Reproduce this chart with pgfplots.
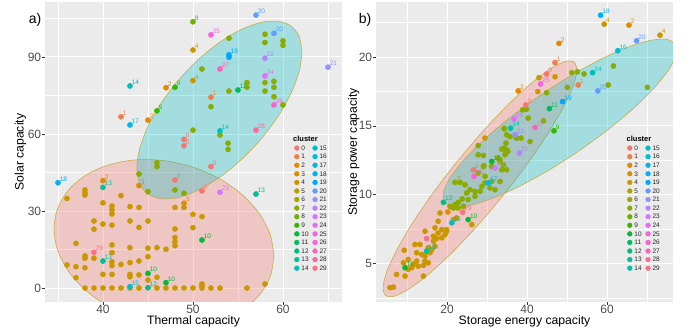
\documentclass[border=0pt]{standalone}
\usepackage{fontspec}
\setmainfont{Liberation Sans}
\usepackage{pgfplots}
\pgfplotsset{compat=1.18}

\definecolor{ggbg}{HTML}{EBEBEB}
\definecolor{tickc}{HTML}{333333}
\definecolor{tickt}{HTML}{4D4D4D}
\definecolor{ellc}{RGB}{195,170,60}
\definecolor{c0}{HTML}{F8766D}
\definecolor{c1}{HTML}{EF7F49}
\definecolor{c2}{HTML}{E38900}
\definecolor{c3}{HTML}{D89000}
\definecolor{c4}{HTML}{C99800}
\definecolor{c5}{HTML}{B79F00}
\definecolor{c6}{HTML}{A3A500}
\definecolor{c7}{HTML}{8AAB00}
\definecolor{c8}{HTML}{6BB100}
\definecolor{c9}{HTML}{39B600}
\definecolor{c10}{HTML}{00BA38}
\definecolor{c11}{HTML}{00BC5A}
\definecolor{c12}{HTML}{00BF7D}
\definecolor{c13}{HTML}{00C098}
\definecolor{c14}{HTML}{00C0B2}
\definecolor{c15}{HTML}{00BFC4}
\definecolor{c16}{HTML}{00BCD6}
\definecolor{c17}{HTML}{00B7E8}
\definecolor{c18}{HTML}{00B0F6}
\definecolor{c19}{HTML}{00A5FF}
\definecolor{c20}{HTML}{619CFF}
\definecolor{c21}{HTML}{9590FF}
\definecolor{c22}{HTML}{B983FF}
\definecolor{c23}{HTML}{D376FF}
\definecolor{c24}{HTML}{E76BF3}
\definecolor{c25}{HTML}{F564E3}
\definecolor{c26}{HTML}{FD61D1}
\definecolor{c27}{HTML}{FF62BC}
\definecolor{c28}{HTML}{FF67A4}
\definecolor{c29}{HTML}{FD6F87}

\newcommand{\tickf}{\fontsize{12}{13}\selectfont}
\newcommand{\labf}{\fontsize{12.2}{14}\selectfont}
\newcommand{\lblf}{\fontsize{6.5}{7}\selectfont}
\newcommand{\legf}{\fontsize{6.5}{7}\selectfont}

\pgfplotsset{
  ggbase/.style={
    scale only axis, width=297pt, height=300pt,
    axis background/.style={fill=ggbg},
    axis line style={draw=none},
    grid=both,
    major grid style={white, line width=0.9pt},
    minor grid style={white, line width=0.45pt},
    tick align=outside, major tick length=2.7pt, minor tick length=0pt,
    tick style={color=tickc, line width=0.5pt},
    tick pos=left,
    xticklabel style={font=\tickf, text=tickt, inner sep=0.5pt},
    yticklabel style={font=\tickf, text=tickt, inner sep=1pt},
    /pgf/number format/assume math mode=true,
    every axis x label/.style={at={(axis description cs:0.5,-0.066)}, anchor=center, font=\labf, inner sep=0pt},
    legend columns=2, legend cell align=left,
    legend image code/.code={\fill[##1] (0pt,0pt) circle (2.4pt);},
    legend style={draw=none, fill=none, inner xsep=0pt, inner ysep=0pt,
      anchor=north west, font=\legf, row sep=2.84pt,
      nodes={inner sep=0.6pt, text depth=0pt, text=black!85},
      /tikz/every odd column/.append style={column sep=1.4pt},
      /tikz/every even column/.append style={column sep=3.2pt}},
  },
  pt/.style={only marks, mark=*, mark size=2.6pt, color=#1, forget plot,
    nodes near coords style={text=#1, font=\lblf, anchor=south west, inner sep=0pt, xshift=1.6pt, yshift=1.2pt}},
  bulk/.style={only marks, mark=*, mark size=2.6pt, color=#1, forget plot},
  ell/.style={draw=ellc, line width=0.55pt, fill=#1, fill opacity=0.3, smooth, no markers, forget plot},
}

\newcommand{\gglegend}{%
\addlegendimage{c0}\addlegendentry{0}
\addlegendimage{c15}\addlegendentry{15}
\addlegendimage{c1}\addlegendentry{1}
\addlegendimage{c16}\addlegendentry{16}
\addlegendimage{c2}\addlegendentry{2}
\addlegendimage{c17}\addlegendentry{17}
\addlegendimage{c3}\addlegendentry{3}
\addlegendimage{c18}\addlegendentry{18}
\addlegendimage{c4}\addlegendentry{4}
\addlegendimage{c19}\addlegendentry{19}
\addlegendimage{c5}\addlegendentry{5}
\addlegendimage{c20}\addlegendentry{20}
\addlegendimage{c6}\addlegendentry{6}
\addlegendimage{c21}\addlegendentry{21}
\addlegendimage{c7}\addlegendentry{7}
\addlegendimage{c22}\addlegendentry{22}
\addlegendimage{c8}\addlegendentry{8}
\addlegendimage{c23}\addlegendentry{23}
\addlegendimage{c9}\addlegendentry{9}
\addlegendimage{c24}\addlegendentry{24}
\addlegendimage{c10}\addlegendentry{10}
\addlegendimage{c25}\addlegendentry{25}
\addlegendimage{c11}\addlegendentry{11}
\addlegendimage{c26}\addlegendentry{26}
\addlegendimage{c12}\addlegendentry{12}
\addlegendimage{c27}\addlegendentry{27}
\addlegendimage{c13}\addlegendentry{13}
\addlegendimage{c28}\addlegendentry{28}
\addlegendimage{c14}\addlegendentry{14}
\addlegendimage{c29}\addlegendentry{29}
}

\begin{document}
\begin{tikzpicture}
\path[use as bounding box] (0,0) rectangle (688pt,331pt);

% ---------------- panel a ----------------
\begin{axis}[ggbase, name=A, at={(45pt,29pt)}, anchor=south west,
  xmin=33.56, xmax=66.56, ymin=-5.45, ymax=111.4,
  xtick={40,50,60}, ytick={0,30,60,90},
  minor xtick={35,45,55,65}, minor ytick={15,45,75,105},
  xlabel={Thermal capacity}, ylabel={Solar capacity},
  every axis y label/.style={at={(axis description cs:-0.083,0.5)}, anchor=center, rotate=90, font=\labf},
  legend style={at={(0.8384,0.5233)}}]
\gglegend
% bulk cluster 4 (gold)
\addplot[bulk=c4] coordinates {
(36,34.9)(38,38.2)(38,37.1)(38,36.2)(42,36.0)(40,33.2)(41,31.9)(41,30.4)(41,28.8)
(43,31.7)(44,31.4)(48,31.4)(49,31.4)(50,28.7)(51,27.8)(39,26.1)(39,22.9)(40,24.9)
(41,24.5)(43,26.1)(45,26.1)(44,23.6)(48,23.0)(50,23.5)(48,19.7)(48,18.0)(48,16.5)
(37,17.4)(41,16.8)(41,13.8)(38,12.5)(38,11.6)(39,11.6)(43,15.7)(45,15.5)(46,15.7)
(47,15.1)(45,12.2)(36,9.0)(37,8.3)(38,7.9)(41,10.2)(41,8.7)(42,9.2)(43,9.9)(44,10.5)
(37,4.0)(40,5.3)(41,5.3)(43,5.3)(43,4.4)(44,5.1)(45,3.1)(46,4.2)
(38,0)(39,0)(40,0)(41,0)(42,0)(43,0)(44,0)(46,0)(47,0)(48,0)(49,0)(50,0)(51,0)
(51,0.8)(51,1.6)(52,0)(53,0)(56,0)(58,1.6)};
% bulk cluster 7 (olive)
\addplot[bulk=c7] coordinates {
(51,85.3)(52,70.6)(50,61.5)(53,59.6)(53.9,56.4)(53.9,54.0)(46,48.8)(46,47.3)
(54,97.3)(58,98.8)(58,95.6)(60,96.3)(60,94.5)(58,80.0)(58,76.7)(59,80.5)(59,78.2)
(59,74.5)(56,80.0)(56,78.2)(54,76.7)(60,71.3)(44,44.4)(45,37.5)(48,38.2)(49,36.9)};
\addplot[bulk=c19] coordinates {(54,89.9)};
% labelled points
\addplot[pt=c0, nodes near coords=0] coordinates {(49,57.9)(49,55.4)(52,47.3)(48,42.1)(51,37.8)};
\addplot[pt=c1, nodes near coords=1] coordinates {(52,74.3)(42,66.7)};
\addplot[pt=c2, nodes near coords=2] coordinates {(47,78.0)(45,65.4)(40,41.8)};
\addplot[pt=c3, nodes near coords=3] coordinates {(44,39.9)(49,33.0)};
\addplot[pt=c4, nodes near coords=4] coordinates {(50,92.7)(50,80.8)};
\addplot[pt=c8, nodes near coords=8] coordinates {(50,103.7)};
\addplot[pt=c9, nodes near coords=9] coordinates {(48,78.2)(46,69.0)};
\addplot[pt=c10, nodes near coords=10] coordinates {(51,18.7)(45,5.7)(47,2.1)};
\addplot[pt=c11, nodes near coords=11] coordinates {(55,77.1)};
\addplot[pt=c12, nodes near coords=12] coordinates {(45,0.1)};
\addplot[pt=c13, nodes near coords=13] coordinates {(40,39.2)(40,10.5)(57,36.6)};
\addplot[pt=c14, nodes near coords=14] coordinates {(43,78.7)(53,61.2)};
\addplot[pt=c15, nodes near coords=15] coordinates {(43,0.5)};
\addplot[pt=c17, nodes near coords=17] coordinates {(43,63.5)};
\addplot[pt=c18, nodes near coords=18] coordinates {(35,41.0)};
\addplot[pt=c19, nodes near coords=19] coordinates {(54,90.8)};
\addplot[pt=c20, nodes near coords=20] coordinates {(57,106.3)(59,99.2)};
\addplot[pt=c21, nodes near coords=21] coordinates {(65,86.0)};
\addplot[pt=c22, nodes near coords=22] coordinates {(58,89.5)};
\addplot[pt=c23, nodes near coords=23] coordinates {(53,37.3)};
\addplot[pt=c24, nodes near coords=24] coordinates {(58,82.6)};
\addplot[pt=c25, nodes near coords=25] coordinates {(52,98.6)};
\addplot[pt=c26, nodes near coords=26] coordinates {(59,71.3)};
\addplot[pt=c27, nodes near coords=27] coordinates {(53,85.3)};
\addplot[pt=c28, nodes near coords=28] coordinates {(57,61.5)};
\addplot[pt=c29, nodes near coords=29] coordinates {(39,13.9)};
% ellipses
\addplot[ell=c0] coordinates {
(59.00,12.42)(58.58,4.34)(57.36,-2.82)(55.42,-8.59)(52.89,-12.56)(49.94,-14.46)
(46.78,-14.18)(43.62,-11.72)(40.67,-7.26)(38.14,-1.09)(36.20,6.36)(34.98,14.58)
(34.56,23.02)(34.98,31.10)(36.20,38.26)(38.14,44.03)(40.67,48.00)(43.62,49.90)
(46.78,49.62)(49.94,47.16)(52.89,42.70)(55.42,36.53)(57.36,29.08)(58.58,20.86)(59.00,12.42)};
\addplot[ell=c15] coordinates {
(62.11,91.94)(61.80,97.98)(60.88,102.06)(59.42,103.92)(57.53,103.42)(55.31,100.59)
(52.94,95.64)(50.57,88.89)(48.36,80.82)(46.46,71.96)(45.00,62.92)(44.08,54.32)
(43.77,46.74)(44.08,40.70)(45.00,36.62)(46.46,34.76)(48.36,35.26)(50.57,38.09)
(52.94,43.04)(55.31,49.79)(57.53,57.86)(59.42,66.72)(60.88,75.76)(61.80,84.36)(62.11,91.94)};
\end{axis}

% ---------------- panel b ----------------
\begin{axis}[ggbase, name=B, at={(376pt,29pt)}, anchor=south west,
  xmin=2.25, xmax=76.5, ymin=2.2, ymax=24.0,
  xtick={20,40,60}, ytick={5,10,15,20},
  minor xtick={10,30,50,70}, minor ytick={2.5,7.5,12.5,17.5,22.5},
  xlabel={Storage energy capacity}, ylabel={Storage power capacity},
  every axis y label/.style={at={(axis description cs:-0.075,0.5)}, anchor=center, rotate=90, font=\labf},
  legend style={at={(0.8451,0.5233)}}]
\gglegend
\addplot[bulk=c4] coordinates {
(43,18.50)(47,18.57)(42.7,17.49)(29.5,14.11)
(18.25,8.67)(17.8,8.07)(21.6,8.19)(22.4,8.31)(26.2,7.83)(17.0,7.59)(18.7,7.46)(19.9,7.46)
(17.8,7.22)(19.5,7.10)(16.6,6.98)(14.5,7.34)(12.0,6.38)(13.25,6.38)(15.3,6.14)(17.0,6.25)
(16.6,6.62)(17.4,6.81)(9.3,5.96)(12.4,5.78)(13.7,5.65)(10.3,5.29)(12.4,5.17)(14.5,5.17)
(11.6,4.93)(12.8,4.80)(14.1,4.86)(15.3,5.05)(7.4,4.20)(9.5,4.08)(14.1,4.08)(5.75,3.24)
(6.6,3.28)(10.3,4.57)(11.2,4.69)(9.1,5.05)(14.5,5.53)(15.75,5.78)(16.2,6.01)(18.7,6.86)(19.9,7.34)};
\addplot[bulk=c7] coordinates {
(44.9,17.41)(51.2,18.86)(52.6,18.93)(54.25,18.77)(61.6,19.35)(50.1,17.80)(60.3,17.97)(70.1,17.80)
(38.9,16.16)(39.9,16.21)(44.1,15.36)(40.3,15.56)(34.3,14.78)(35.75,14.22)(37.4,14.11)(38.5,14.11)
(40.75,13.86)(34.75,13.75)(34.3,13.38)(34.9,13.26)(33.7,13.31)(34.7,13.02)(35.2,13.14)(27.8,12.90)
(29.25,12.10)(31.2,12.05)(32.7,12.66)(33.25,12.41)(27.8,13.57)(29.1,12.85)(33.25,12.54)(34.5,12.90)
(34.9,14.35)(37.2,14.15)(34.3,14.83)
(23.25,10.89)(24.5,10.72)(25.75,10.36)(27.0,10.24)(24.9,10.12)(23.8,9.69)(22.8,9.44)(22.0,9.28)
(20.75,9.15)(21.6,9.03)(22.8,9.03)(24.1,9.15)(25.3,9.64)(27.0,9.88)(28.25,10.24)(28.7,10.60)
(29.5,10.85)(29.5,11.33)(29.1,12.05)(30.75,10.49)(32.0,10.36)(33.25,10.96)(33.7,11.81)(34.1,12.17)
(34.9,11.81)(27.8,11.57)(31.2,10.96)};
\addplot[bulk=c29] coordinates {(14.9,6.81)};
\addplot[pt=c0, nodes near coords=0] coordinates {(44.9,18.77)(39.7,16.52)(26.6,11.81)};
\addplot[pt=c1, nodes near coords=1] coordinates {(47.0,19.59)(52.8,17.97)};
\addplot[pt=c2, nodes near coords=2] coordinates {(65.5,22.32)(48.0,20.99)(37.8,17.54)(20.2,8.74)};
\addplot[pt=c4, nodes near coords=4] coordinates {(59.3,22.39)(73.25,21.59)};
\addplot[pt=c7, nodes near coords=7] coordinates {(22.0,10.89)};
\addplot[pt=c9, nodes near coords=9] coordinates {(46.75,14.64)};
\addplot[pt=c10, nodes near coords=10] coordinates {(31.2,12.41)(25.3,8.19)(9.5,4.69)};
\addplot[pt=c11, nodes near coords=11] coordinates {(45.6,16.25)};
\addplot[pt=c12, nodes near coords=12] coordinates {(19.1,9.44)};
\addplot[pt=c13, nodes near coords=13] coordinates {(14.9,5.89)};
\addplot[pt=c14, nodes near coords=14] coordinates {(56.4,18.86)(35.9,14.83)};
\addplot[pt=c15, nodes near coords=15] coordinates {(21.2,7.95)};
\addplot[pt=c16, nodes near coords=16] coordinates {(62.7,20.46)};
\addplot[pt=c17, nodes near coords=17] coordinates {(30.3,10.85)};
\addplot[pt=c18, nodes near coords=18] coordinates {(58.4,23.04)};
\addplot[pt=c19, nodes near coords=19] coordinates {(48.9,16.76)};
\addplot[pt=c20, nodes near coords=20] coordinates {(67.4,21.18)(57.7,17.54)};
\addplot[pt=c21, nodes near coords=21] coordinates {(37.0,14.35)};
\addplot[pt=c22, nodes near coords=22] coordinates {(38.1,13.02)};
\addplot[pt=c23, nodes near coords=23] coordinates {(32.0,11.93)};
\addplot[pt=c24, nodes near coords=24] coordinates {(36.75,15.49)};
\addplot[pt=c25, nodes near coords=25] coordinates {(43.4,18.04)};
\addplot[pt=c26, nodes near coords=26] coordinates {(26.75,11.33)};
\addplot[pt=c27, nodes near coords=27] coordinates {(42.0,14.88)};
\addplot[pt=c29, nodes near coords=29] coordinates {(23.9,8.72)};
\addplot[ell=c0] coordinates {
(51.85,19.64)(52.49,19.01)(51.47,17.85)(48.86,16.24)(44.86,14.27)(39.72,12.09)
(33.80,9.86)(27.50,7.71)(21.26,5.79)(15.48,4.24)(10.59,3.17)(6.89,2.63)
(4.65,2.68)(4.01,3.31)(5.03,4.47)(7.64,6.08)(11.64,8.05)(16.78,10.23)
(22.70,12.46)(29.00,14.61)(35.24,16.53)(41.02,18.08)(45.91,19.15)(49.61,19.69)(51.85,19.64)};
\addplot[ell=c15] coordinates {
(77.10,20.96)(77.36,20.23)(75.63,19.17)(72.04,17.84)(66.84,16.33)(60.36,14.75)
(53.05,13.19)(45.42,11.77)(37.98,10.59)(31.24,9.72)(25.67,9.23)(21.62,9.15)
(19.40,9.48)(19.14,10.21)(20.87,11.27)(24.46,12.60)(29.66,14.11)(36.14,15.69)
(43.45,17.25)(51.08,18.67)(58.52,19.85)(65.26,20.72)(70.83,21.21)(74.88,21.29)(77.10,20.96)};
\end{axis}

\node[font=\fontsize{14}{16}\selectfont, anchor=center] at ([shift={(-10pt,-18pt)}]A.north west) {a)};
\node[font=\fontsize{14}{16}\selectfont, anchor=center] at ([shift={(-11pt,-18pt)}]B.north west) {b)};
\node[font=\fontsize{7.5}{8}\selectfont\bfseries, anchor=west, inner sep=0pt] at ([shift={(248pt,-137pt)}]A.north west) {cluster};
\node[font=\fontsize{7.5}{8}\selectfont\bfseries, anchor=west, inner sep=0pt] at ([shift={(250.5pt,-137pt)}]B.north west) {cluster};
\end{tikzpicture}
\end{document}
